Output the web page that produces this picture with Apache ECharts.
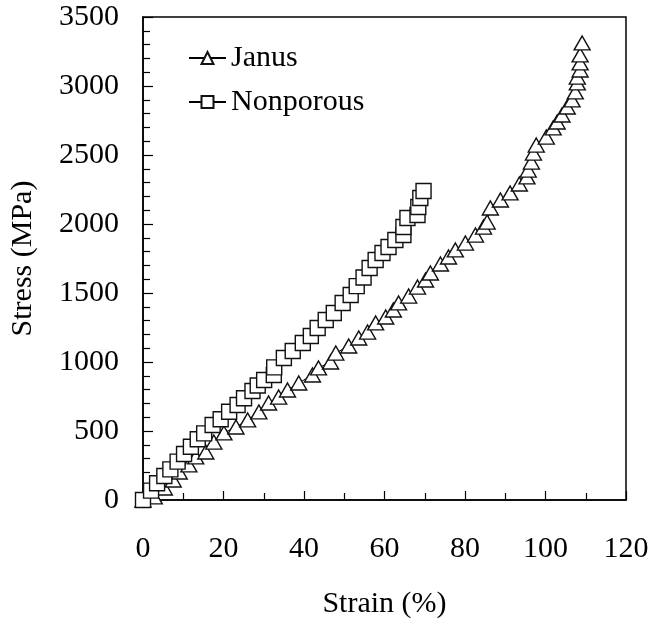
<!DOCTYPE html>
<html>
<head>
<meta charset="utf-8">
<script src="https://cdn.jsdelivr.net/npm/echarts@6/dist/echarts.min.js"></script>
<style>html,body{margin:0;padding:0;background:#fff;}#c{width:652px;height:624px;}</style>
</head>
<body>
<div id="c"></div>
<script>
var seriesNames = ['Janus', 'Nonporous'];
var janusStrain = [0, 2.8, 5.3, 7.5, 9.0, 11.4, 13.1, 15.6, 17.6, 20.1, 23.1, 26.0, 28.8, 31.2, 33.7, 35.9, 38.7, 42.1, 43.6, 46.6, 47.9, 51.1, 53.6, 55.8, 57.8, 60.3, 62.2, 63.5, 66.0, 68.2, 70.2, 71.4, 73.9, 75.9, 77.6, 80.1, 82.6, 84.6, 85.5, 86.3, 88.8, 91.2, 93.5, 95.4, 95.7, 96.5, 97.0, 97.7, 100.2, 101.9, 102.9, 104.1, 105.4, 106.6, 107.4, 107.9, 107.9, 108.6, 108.6, 108.6, 109.1];
var janusStress = [0, 22, 87, 145, 203, 254, 312, 348, 420, 486, 529, 580, 638, 703, 746, 797, 848, 906, 957, 1000, 1065, 1116, 1174, 1217, 1283, 1326, 1377, 1428, 1478, 1543, 1594, 1645, 1710, 1761, 1812, 1862, 1920, 1978, 2014, 2116, 2174, 2225, 2290, 2341, 2391, 2449, 2514, 2572, 2630, 2696, 2739, 2790, 2848, 2899, 2957, 3022, 3065, 3116, 3167, 3225, 3312];
var nonporousStrain = [0, 2.0, 3.5, 5.3, 6.8, 8.6, 10.2, 11.9, 13.6, 15.2, 17.3, 19.3, 21.4, 23.5, 25.1, 27.2, 28.5, 30.1, 32.5, 32.6, 35.0, 37.2, 39.7, 41.7, 43.4, 45.4, 47.4, 49.6, 51.6, 53.1, 54.8, 56.3, 57.8, 59.5, 61.0, 62.7, 64.7, 64.7, 65.7, 68.2, 68.4, 68.9, 69.7];
var nonporousStress = [0, 68, 121, 174, 222, 278, 333, 386, 440, 483, 543, 585, 640, 688, 737, 790, 830, 870, 906, 961, 1029, 1080, 1138, 1188, 1246, 1304, 1355, 1428, 1486, 1550, 1612, 1681, 1739, 1790, 1833, 1884, 1920, 1978, 2043, 2065, 2123, 2188, 2239];
var xTicks = [0, 20, 40, 60, 80, 100, 120];
var yTicks = [0, 500, 1000, 1500, 2000, 2500, 3000, 3500];

function pairs(xs, ys) { return xs.map(function (x, i) { return [x, ys[i]]; }); }

var FONT = 'Liberation Serif';
var chart = echarts.init(document.getElementById('c'), null, {renderer: 'canvas'});
chart.setOption({
  animation: false,
  backgroundColor: '#fff',
  textStyle: {fontFamily: FONT, color: '#000'},
  grid: {left: 142, right: 26, top: 17, bottom: 124, show: true, borderColor: '#000', borderWidth: 1.5, backgroundColor: 'transparent'},
  legend: {
    orient: 'vertical', left: 183, top: 38, itemGap: 14,
    itemWidth: 37, itemHeight: 15,
    data: seriesNames,
    textStyle: {fontFamily: FONT, fontSize: 30, color: '#000', lineHeight: 30}
  },
  xAxis: {
    type: 'value', min: xTicks[0], max: xTicks[xTicks.length - 1], interval: 20,
    name: 'Strain (%)', nameLocation: 'middle', nameGap: 89,
    nameTextStyle: {fontFamily: FONT, fontSize: 30, color: '#000'},
    axisLine: {lineStyle: {color: '#000', width: 1.5}},
    axisTick: {inside: true, length: 9, lineStyle: {color: '#000', width: 1.2}},
    minorTick: {show: true, splitNumber: 2, length: 7, lineStyle: {color: '#000', width: 1.2}},
    splitLine: {show: false},
    axisLabel: {fontFamily: FONT, fontSize: 30, color: '#000', margin: 34, formatter: function (v) { return String(v); }}
  },
  yAxis: {
    type: 'value', min: yTicks[0], max: yTicks[yTicks.length - 1], interval: 500,
    name: 'Stress (MPa)', nameLocation: 'middle', nameGap: 105, nameRotate: 90,
    nameTextStyle: {fontFamily: FONT, fontSize: 30, color: '#000'},
    axisLine: {lineStyle: {color: '#000', width: 1.5}},
    axisTick: {inside: true, length: 10, lineStyle: {color: '#000', width: 1.2}},
    minorTick: {show: true, splitNumber: 5, length: 7, lineStyle: {color: '#000', width: 1.2}},
    splitLine: {show: false},
    axisLabel: {fontFamily: FONT, fontSize: 30, color: '#000', margin: 24, formatter: function (v) { return String(v); }}
  },
  series: [
    {
      name: seriesNames[0], type: 'line', data: pairs(janusStrain, janusStress),
      symbol: 'triangle', symbolSize: [16, 14], showSymbol: true,
      lineStyle: {color: '#000', width: 1},
      itemStyle: {color: '#fff', borderColor: '#111', borderWidth: 1.4},
      z: 2
    },
    {
      name: seriesNames[1], type: 'line', data: pairs(nonporousStrain, nonporousStress),
      symbol: 'rect', symbolSize: 15, showSymbol: true,
      lineStyle: {color: '#000', width: 1},
      itemStyle: {color: '#fff', borderColor: '#111', borderWidth: 1.4},
      z: 3
    }
  ]
});
</script>
</body>
</html>
